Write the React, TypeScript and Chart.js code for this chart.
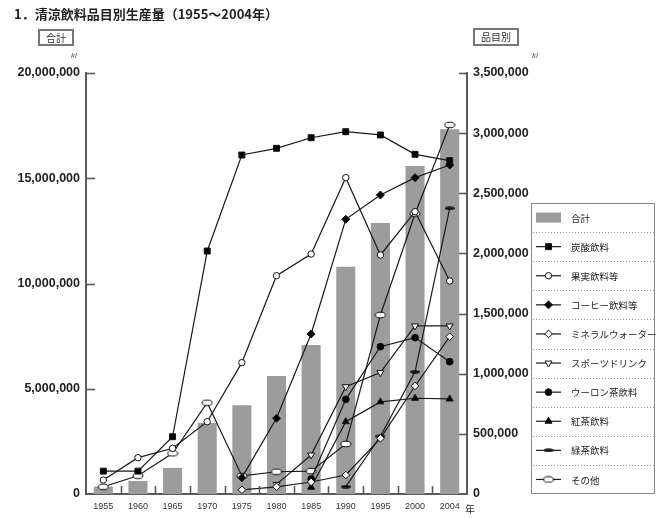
import React, { useEffect, useRef } from 'react';
import { Chart, registerables } from 'chart.js';
import { drawPoint } from 'chart.js/helpers';

Chart.register(...registerables);

const years = ['1955', '1960', '1965', '1970', '1975', '1980', '1985', '1990', '1995', '2000', '2004'];
const totalTicksLeft = [0, 5000000, 10000000, 15000000, 20000000];

const total = [350000, 620000, 1240000, 3370000, 4220000, 5600000, 7080000, 10790000, 12870000, 15580000, 17330000];
const carbonated = [190000, 190000, 476000, 2020000, 2818000, 2874000, 2962000, 3012000, 2985000, 2824000, 2771000];
const fruit = [116000, 302000, 380000, 601000, 1092000, 1815000, 1995000, 2630000, 1987000, 2347000, 1771000];
const coffee = [null, null, null, null, 136000, 629000, 1330000, 2284000, 2486000, 2630000, 2735000];
const mineral = [null, null, null, null, 35000, 60000, 100000, 158000, 463000, 898000, 1308000];
const sports = [null, null, null, null, null, 80000, 324000, 892000, 1009000, 1397000, 1397000];
const oolong = [null, null, null, null, null, null, 125000, 787000, 1225000, 1300000, 1100000];
const blackTea = [null, null, null, null, null, null, 56000, 601000, 766000, 796000, 790000];
const greenTea = [null, null, null, null, null, null, null, 61000, 480000, 1016000, 2375000];
const others = [60000, 152000, 338000, 759000, 150000, 185000, 190000, 416000, 1488000, 2330000, 3068000];

const seriesLabels = ['合計', '炭酸飲料', '果実飲料等', 'コーヒー飲料等', 'ミネラルウォーター', 'スポーツドリンク', 'ウーロン茶飲料', '紅茶飲料', '緑茶飲料', 'その他'];

function makeOval(): HTMLCanvasElement {
  const c = document.createElement('canvas');
  c.width = 12; c.height = 8;
  const g = c.getContext('2d')!;
  g.beginPath();
  g.ellipse(6, 4, 5, 2.8, 0, 0, Math.PI * 2);
  g.fillStyle = '#fff';
  g.fill();
  g.lineWidth = 1;
  g.strokeStyle = '#111';
  g.stroke();
  return c;
}

function makeDash(): HTMLCanvasElement {
  const c = document.createElement('canvas');
  c.width = 10; c.height = 4;
  const g = c.getContext('2d')!;
  g.fillStyle = '#111';
  g.beginPath();
  g.ellipse(5, 2, 5, 1.8, 0, 0, Math.PI * 2);
  g.fill();
  return c;
}

const LINE = '#1a1a1a';
const AXIS = '#5a5a5a';

export default function App() {
  const ref = useRef<HTMLCanvasElement>(null);

  useEffect(() => {
    const oval = makeOval();
    const dash = makeDash();

    const mk = (label: string, data: (number | null)[], style: any, bg: string, radius: number, rotation = 0) => ({
      type: 'line' as const,
      label,
      data,
      yAxisID: 'y1',
      borderColor: LINE,
      borderWidth: 1.2,
      pointStyle: style,
      pointBackgroundColor: bg,
      pointBorderColor: '#111',
      pointBorderWidth: 1,
      pointRadius: radius,
      pointRotation: rotation,
      tension: 0,
      spanGaps: false,
      order: 0,
    });

    const datasets: any[] = [
      {
        type: 'bar',
        label: seriesLabels[0],
        data: total,
        yAxisID: 'y',
        backgroundColor: '#9c9c9c',
        barPercentage: 0.55,
        categoryPercentage: 1,
        order: 1,
      },
      mk(seriesLabels[1], carbonated, 'rect', '#000', 4.2),
      mk(seriesLabels[2], fruit, 'circle', '#fff', 3.2),
      mk(seriesLabels[3], coffee, 'rectRot', '#000', 4),
      mk(seriesLabels[4], mineral, 'rectRot', '#fff', 3.8),
      mk(seriesLabels[5], sports, 'triangle', '#fff', 4, 180),
      mk(seriesLabels[6], oolong, 'circle', '#000', 3.4),
      mk(seriesLabels[7], blackTea, 'triangle', '#000', 4),
      mk(seriesLabels[8], greenTea, dash, '#000', 4),
      mk(seriesLabels[9], others, oval, '#fff', 4),
    ];

    const decor = {
      id: 'decor',
      afterDraw(chart: any) {
        const ctx = chart.ctx as CanvasRenderingContext2D;
        const area = chart.chartArea;
        const ys = chart.scales.y;
        const y1 = chart.scales.y1;
        const xs = chart.scales.x;
        ctx.save();
        ctx.strokeStyle = AXIS;
        ctx.lineWidth = 1.6;
        // inward ticks on left axis
        ys.ticks.forEach((t: any) => {
          const py = Math.round(ys.getPixelForValue(t.value)) + 0.5;
          if (t.value === 0) return;
          ctx.beginPath();
          ctx.moveTo(area.left, py);
          ctx.lineTo(area.left + 9, py);
          ctx.stroke();
        });
        y1.ticks.forEach((t: any) => {
          const py = Math.round(y1.getPixelForValue(t.value)) + 0.5;
          if (t.value === 0) return;
          ctx.beginPath();
          ctx.moveTo(area.right, py);
          ctx.lineTo(area.right - 8, py);
          ctx.stroke();
        });
        for (let i = 1; i < years.length; i++) {
          const px = Math.round((xs.getPixelForTick(i - 1) + xs.getPixelForTick(i)) / 2) + 0.5;
          ctx.beginPath();
          ctx.moveTo(px, area.bottom);
          ctx.lineTo(px, area.bottom - 8);
          ctx.stroke();
        }
        ctx.restore();

        // legend
        const L = 531, T = 203, R = 655, B = 494;
        ctx.save();
        ctx.fillStyle = '#fff';
        ctx.fillRect(L, T, R - L, B - T);
        ctx.strokeStyle = '#8a8a8a';
        ctx.lineWidth = 1;
        ctx.strokeRect(L + 0.5, T + 0.5, R - L - 1, B - T - 1);
        const step = (B - T) / 10;
        ctx.setLineDash([1, 2]);
        ctx.strokeStyle = '#9a9a9a';
        for (let i = 1; i < 10; i++) {
          const yy = Math.round(T + step * i) + 0.5;
          ctx.beginPath();
          ctx.moveTo(L + 2, yy);
          ctx.lineTo(R - 1, yy);
          ctx.stroke();
        }
        ctx.setLineDash([]);
        ctx.font = '9.5px "Noto Sans CJK JP", sans-serif';
        ctx.textBaseline = 'middle';
        ctx.textAlign = 'left';
        chart.data.datasets.forEach((ds: any, i: number) => {
          const cy = T + step * (i + 0.5);
          if (ds.type === 'bar') {
            ctx.fillStyle = ds.backgroundColor;
            ctx.fillRect(536, cy - 5, 25, 10);
          } else {
            ctx.strokeStyle = LINE;
            ctx.lineWidth = 1.2;
            ctx.beginPath();
            ctx.moveTo(536, cy);
            ctx.lineTo(561, cy);
            ctx.stroke();
            ctx.fillStyle = ds.pointBackgroundColor;
            ctx.strokeStyle = ds.pointBorderColor;
            ctx.lineWidth = ds.pointBorderWidth;
            drawPoint(ctx, {
              pointStyle: ds.pointStyle,
              radius: ds.pointRadius,
              rotation: ds.pointRotation || 0,
              borderWidth: ds.pointBorderWidth,
            } as any, 548.5, cy);
          }
          ctx.fillStyle = '#222';
          ctx.fillText(ds.label, 571, cy + 0.5);
        });
        ctx.restore();
      },
    };

    const fmt = (v: any) => Number(v).toLocaleString('en-US');

    const chart = new Chart(ref.current!, {
      data: { labels: years, datasets },
      options: {
        responsive: false,
        animation: false,
        devicePixelRatio: 1,
        layout: { padding: { top: 73, left: 0, right: 0, bottom: 0 } },
        plugins: { legend: { display: false }, tooltip: { enabled: false } },
        scales: {
          x: {
            type: 'category',
            offset: true,
            grid: { display: false, drawTicks: false },
            border: { display: true, color: AXIS, width: 2 },
            ticks: {
              font: { family: '"Liberation Sans", Arial, sans-serif', size: 9 },
              color: '#333',
              padding: 7,
              maxRotation: 0,
              autoSkip: false,
            },
            afterFit: (s: any) => { s.height = 24; },
          },
          y: {
            type: 'linear',
            position: 'left',
            min: 0,
            max: 20000000,
            afterBuildTicks: (s: any) => { s.ticks = totalTicksLeft.map((v) => ({ value: v })); },
            grid: { display: false, drawTicks: false },
            border: { display: true, color: AXIS, width: 2 },
            ticks: {
              callback: fmt,
              font: { family: '"Liberation Sans", Arial, sans-serif', size: 12.5, weight: 'bold' },
              color: '#222',
              padding: 6,
            },
            afterFit: (s: any) => { s.width = 86; },
          },
          y1: {
            type: 'linear',
            position: 'right',
            min: 0,
            max: 3500000,
            ticks: {
              stepSize: 500000,
              callback: fmt,
              font: { family: '"Liberation Sans", Arial, sans-serif', size: 12.5, weight: 'bold' },
              color: '#222',
              padding: 6,
            },
            grid: { display: false, drawTicks: false },
            border: { display: true, color: AXIS, width: 2 },
            afterFit: (s: any) => { s.width = 189; },
          },
        },
      } as any,
      plugins: [decor],
    });
    return () => chart.destroy();
  }, []);

  const cjk = '"Noto Sans CJK JP", sans-serif';
  return (
    <div style={{ position: 'absolute', left: 0, top: 0, width: 656, height: 518, background: '#fff', overflow: 'hidden' }}>
      <canvas ref={ref} width={656} height={518} style={{ position: 'absolute', left: 0, top: 0, width: 656, height: 518 }} />
      <div style={{ position: 'absolute', left: 14, top: 5, fontFamily: cjk, fontWeight: 'bold', fontSize: 13, lineHeight: '18px', color: '#222', whiteSpace: 'nowrap' }}>
        1．清涼飲料品目別生産量（1955～2004年）
      </div>
      <div style={{ position: 'absolute', left: 38, top: 29, width: 32, height: 13, border: '2px solid #777', fontFamily: cjk, fontSize: 10, lineHeight: '13px', textAlign: 'center', color: '#333' }}>
        合計
      </div>
      <div style={{ position: 'absolute', left: 473, top: 28, width: 42, height: 14, border: '2px solid #777', fontFamily: cjk, fontSize: 10, lineHeight: '14px', textAlign: 'center', color: '#333' }}>
        品目別
      </div>
      <div style={{ position: 'absolute', left: 71, top: 51, fontFamily: '"Liberation Sans", sans-serif', fontStyle: 'italic', fontSize: 8, color: '#555' }}>kl</div>
      <div style={{ position: 'absolute', left: 532, top: 51, fontFamily: '"Liberation Sans", sans-serif', fontStyle: 'italic', fontSize: 8, color: '#555' }}>kl</div>
      <div style={{ position: 'absolute', left: 465, top: 503, fontFamily: cjk, fontSize: 10, lineHeight: '12px', color: '#333' }}>年</div>
    </div>
  );
}
